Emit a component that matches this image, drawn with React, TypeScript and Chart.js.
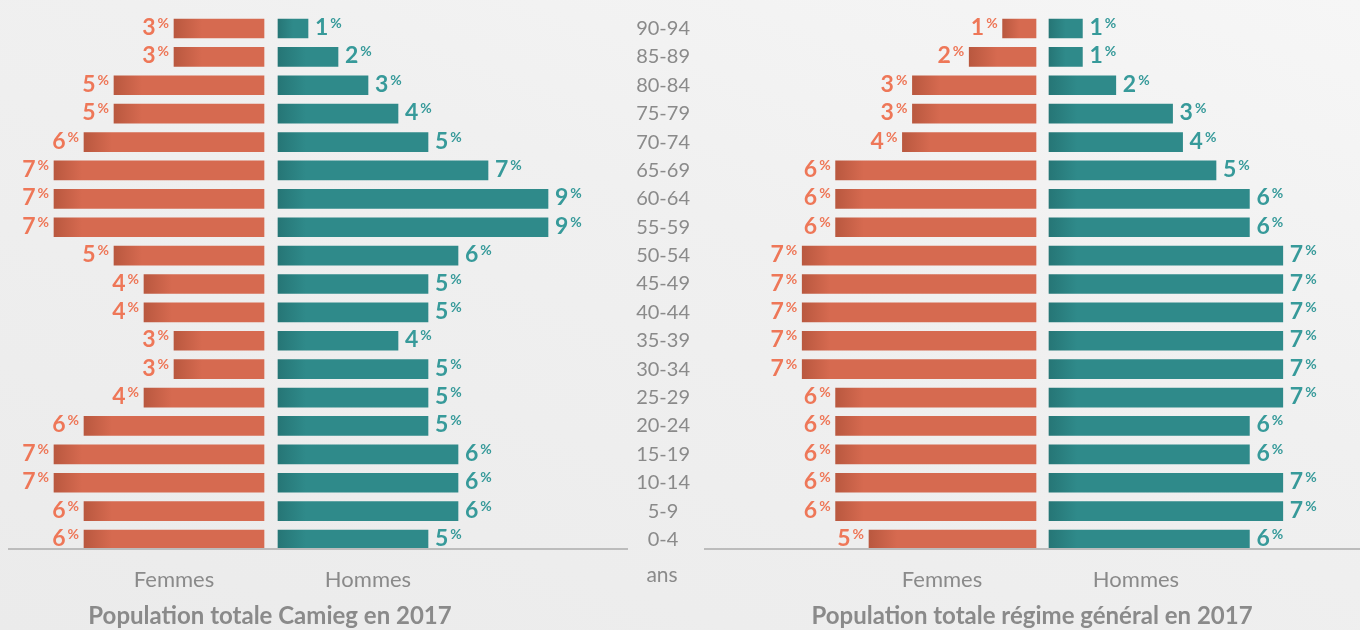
import React, { useEffect, useRef } from "react";
import { Chart, registerables } from "chart.js";

Chart.register(...registerables);

// ---- Data ----
const AGE_GROUPS = [
  "90-94", "85-89", "80-84", "75-79", "70-74", "65-69", "60-64", "55-59", "50-54", "45-49",
  "40-44", "35-39", "30-34", "25-29", "20-24", "15-19", "10-14", "5-9", "0-4",
];

const CAMIEG_FEMMES = [3, 3, 5, 5, 6, 7, 7, 7, 5, 4, 4, 3, 3, 4, 6, 7, 7, 6, 6];
const CAMIEG_HOMMES = [1, 2, 3, 4, 5, 7, 9, 9, 6, 5, 5, 4, 5, 5, 5, 6, 6, 6, 5];

const RG_FEMMES = [1, 2, 3.7, 3.7, 4, 6, 6, 6, 7, 7, 7, 7, 7, 6, 6, 6, 6, 6, 5];
const RG_HOMMES = [1, 1, 2, 3.7, 4, 5, 6, 6, 7, 7, 7, 7, 7, 7, 6, 6, 7, 7, 6];

const SIDE_LABELS = ["Femmes", "Hommes"];
const AXIS_UNIT = "ans";
const TITLE_CAMIEG = "Population totale Camieg en 2017";
const TITLE_RG = "Population totale régime général en 2017";

// ---- Styles ----
const FONT = 'Lato, "Open Sans", "DejaVu Sans", sans-serif';
const ORANGE = "#d66a50";
const ORANGE_DARK = "#b9583f";
const ORANGE_TEXT = "#ee7758";
const TEAL = "#2f8a8a";
const TEAL_DARK = "#267676";
const TEAL_TEXT = "#379a9a";
const GREY_TEXT = "#8a8a8a";

function barFill(base: string, dark: string) {
  return (ctx: any) => {
    const chart = ctx.chart;
    const area = chart.chartArea;
    const raw = ctx.raw;
    if (!area || !Array.isArray(raw)) return base;
    const xs = chart.scales.x;
    const x0 = xs.getPixelForValue(Math.min(raw[0], raw[1]));
    const x1 = xs.getPixelForValue(Math.max(raw[0], raw[1]));
    const w = Math.max(1, x1 - x0);
    const g = chart.ctx.createLinearGradient(x0, 0, x1, 0);
    const f = Math.min(0.5, 28 / w);
    g.addColorStop(0, dark);
    g.addColorStop(f, base);
    g.addColorStop(1, base);
    return g;
  };
}

const pctLabelPlugin = {
  id: "pctLabels",
  afterDatasetsDraw(chart: any, _args: any, opts: any) {
    const ctx = chart.ctx;
    ctx.save();
    chart.data.datasets.forEach((ds: any, di: number) => {
      const meta = chart.getDatasetMeta(di);
      const conf = opts.sets[di];
      meta.data.forEach((el: any, i: number) => {
        const raw = ds.data[i];
        const v = Math.trunc(Math.abs(raw[1] - raw[0]) + 1e-6);
        const digit = String(v);
        ctx.fillStyle = conf.color;
        ctx.textAlign = "left";
        ctx.textBaseline = "alphabetic";
        ctx.font = `bold 23px ${FONT}`;
        const dw = ctx.measureText(digit).width;
        ctx.font = `bold 14px ${FONT}`;
        const pw = ctx.measureText("%").width;
        const gap = 2;
        let x: number;
        if (conf.side === "left") {
          x = el.x - 5 - (dw + gap + pw);
        } else {
          x = el.x + 7;
        }
        ctx.font = `bold 23px ${FONT}`;
        ctx.fillText(digit, x, el.y + 6.5);
        ctx.font = `bold 14px ${FONT}`;
        ctx.fillText("%", x + dw + gap, el.y - 0.5);
      });
    });
    ctx.restore();
  },
};

const baselinePlugin = {
  id: "baseline",
  afterDraw(chart: any, _args: any, opts: any) {
    const ctx = chart.ctx;
    ctx.save();
    ctx.fillStyle = "#bcbcbc";
    ctx.fillRect(opts.from, opts.y, opts.to - opts.from, 2);
    ctx.restore();
  },
};

type PyramidOpts = {
  femmes: number[];
  hommes: number[];
  min: number;
  max: number;
  halfGap: number;
  showAges: boolean;
  lineFrom: number;
  lineTo: number;
};

function makePyramid(canvas: HTMLCanvasElement, o: PyramidOpts) {
  const g = o.halfGap;
  return new Chart(canvas, {
    type: "bar",
    data: {
      labels: AGE_GROUPS,
      datasets: [
        {
          label: SIDE_LABELS[0],
          data: o.femmes.map((v) => [-v - g, -g]) as any,
          backgroundColor: barFill(ORANGE, ORANGE_DARK) as any,
          barThickness: 19,
          grouped: false,
          borderWidth: 0,
        },
        {
          label: SIDE_LABELS[1],
          data: o.hommes.map((v) => [g, v + g]) as any,
          backgroundColor: barFill(TEAL, TEAL_DARK) as any,
          barThickness: 19,
          grouped: false,
          borderWidth: 0,
        },
      ],
    },
    options: {
      indexAxis: "y",
      responsive: false,
      animation: false,
      events: [],
      layout: { padding: { top: 14.3, bottom: 76.3, left: 0, right: 0 } },
      scales: {
        x: { type: "linear", min: o.min, max: o.max, display: false },
        y: {
          type: "category",
          display: o.showAges,
          position: "left",
          offset: true,
          grid: { display: false, drawTicks: false },
          border: { display: false },
          ticks: {
            crossAlign: "center",
            padding: 10,
            color: GREY_TEXT,
            font: { family: FONT, size: 20 },
          },
          afterFit: (s: any) => {
            if (!o.showAges) {
              s.width = 0;
              return;
            }
            s.width = 70;
            s.paddingTop = 0;
            s.paddingBottom = 0;
          },
        } as any,
      },
      plugins: {
        legend: { display: false },
        tooltip: { enabled: false },
        pctLabels: {
          sets: [
            { side: "left", color: ORANGE_TEXT },
            { side: "right", color: TEAL_TEXT },
          ],
        },
        baseline: { from: o.lineFrom, to: o.lineTo, y: 548 },
      } as any,
    },
    plugins: [pctLabelPlugin, baselinePlugin],
  });
}

function Txt(props: { x: number; y: number; text: string; bold?: boolean; size: number }) {
  return (
    <div
      style={{
        position: "absolute",
        left: props.x,
        top: props.y,
        transform: "translate(-50%, -50%)",
        whiteSpace: "nowrap",
        lineHeight: 1,
        fontFamily: FONT,
        fontSize: props.size,
        fontWeight: props.bold ? 700 : 400,
        color: GREY_TEXT,
      }}
    >
      {props.text}
    </div>
  );
}

export default function App() {
  const leftRef = useRef<HTMLCanvasElement>(null);
  const rightRef = useRef<HTMLCanvasElement>(null);

  useEffect(() => {
    let cancelled = false;
    const charts: Chart[] = [];
    const build = () => {
      if (cancelled || !leftRef.current || !rightRef.current) return;
      charts.push(
        makePyramid(leftRef.current, {
          femmes: CAMIEG_FEMMES,
          hommes: CAMIEG_HOMMES,
          min: -271 / 30,
          max: 359 / 30,
          halfGap: 7 / 30,
          showAges: false,
          lineFrom: 8,
          lineTo: 628,
        })
      );
      charts.push(
        makePyramid(rightRef.current, {
          femmes: RG_FEMMES,
          hommes: RG_HOMMES,
          min: -342.5 / 33.4,
          max: 317.5 / 33.4,
          halfGap: 6.5 / 33.4,
          showAges: true,
          lineFrom: 74,
          lineTo: 730,
        })
      );
    };
    const fontsApi = (document as any).fonts;
    if (fontsApi && fontsApi.load) {
      Promise.all([
        fontsApi.load(`bold 23px Lato`),
        fontsApi.load(`20px Lato`),
      ])
        .catch(() => null)
        .then(build);
    } else {
      build();
    }
    return () => {
      cancelled = true;
      charts.forEach((c) => c.destroy());
    };
  }, []);

  return (
    <div
      style={{
        position: "absolute",
        left: 0,
        top: 0,
        width: 1360,
        height: 630,
        overflow: "hidden",
        background: "linear-gradient(200deg, #f6f6f6 0%, #f0f0f0 40%, #ebebeb 100%)",
      }}
    >
      <canvas
        ref={leftRef}
        width={630}
        height={630}
        style={{ position: "absolute", left: 0, top: 0, display: "block" }}
      />
      <canvas
        ref={rightRef}
        width={730}
        height={630}
        style={{ position: "absolute", left: 630, top: 0, display: "block" }}
      />
      <Txt x={174} y={579} text={SIDE_LABELS[0]} size={22} />
      <Txt x={368} y={579} text={SIDE_LABELS[1]} size={22} />
      <Txt x={942} y={579} text={SIDE_LABELS[0]} size={22} />
      <Txt x={1136} y={579} text={SIDE_LABELS[1]} size={22} />
      <Txt x={662} y={573} text={AXIS_UNIT} size={21} />
      <Txt x={270} y={615} text={TITLE_CAMIEG} size={24} bold />
      <Txt x={1032} y={615} text={TITLE_RG} size={24} bold />
    </div>
  );
}
